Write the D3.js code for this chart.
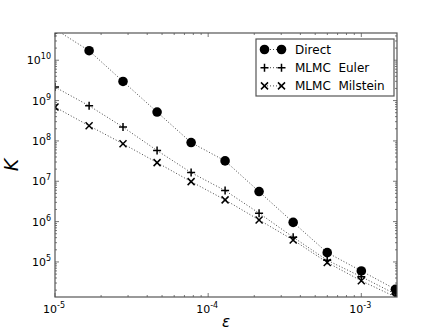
<!DOCTYPE html>
<html>
<head>
<meta charset="utf-8">
<script src="https://cdn.jsdelivr.net/npm/d3@7"></script>
<style>
  body { margin: 0; background: #fff; }
  text { font-family: "DejaVu Sans", sans-serif; }
</style>
</head>
<body>
<div id="chart"></div>
<script>

// tolerance values epsilon
const eps = [1e-5, 1.67e-5, 2.78e-5, 4.64e-5, 7.74e-5, 1.29e-4, 2.15e-4, 3.59e-4, 5.99e-4, 1e-3, 1.67e-3];

// cost K for each method
const direct   = [5.9e10, 1.72e10, 2.98e9, 5.19e8, 9.1e7, 3.2e7, 5.55e6, 9.55e5, 1.70e5, 5.98e4, 2.1e4];
const euler    = [2.16e9, 7.43e8, 2.2e8, 5.78e7, 1.64e7, 5.88e6, 1.62e6, 4.1e5, 1.1e5, 4.3e4, 1.6e4];
const milstein = [6.9e8, 2.37e8, 8.5e7, 2.9e7, 9.8e6, 3.45e6, 1.1e6, 3.5e5, 9.7e4, 3.4e4, 1.36e4];

const seriesNames = ["Direct", "MLMC  Euler", "MLMC  Milstein"];
const xTickExps = [-5, -4, -3];
const yTickExps = [5, 6, 7, 8, 9, 10];

/**********************
***** BASIC SETUP *****
**********************/

const width = 441;
const height = 331;
const margin = {top: 33, left: 55, right: 44, bottom: 34};
const plotWidth = width - margin.left - margin.right;
const plotHeight = height - margin.top - margin.bottom;
const FRAME = "#555";

const svg = d3.select("#chart").append("svg")
    .attr("width", width)
    .attr("height", height);

const x = d3.scaleLog()
    .domain([1e-5, Math.pow(10, -2.767)])
    .range([0, plotWidth]);

const y = d3.scaleLog()
    .domain([Math.pow(10, 4.131), Math.pow(10, 10.675)])
    .range([plotHeight, 0]);

const plot = svg.append("g")
    .attr("transform", `translate(${margin.left}, ${margin.top})`);

plot.append("defs").append("clipPath")
    .attr("id", "clip")
    .append("rect")
    .attr("width", plotWidth)
    .attr("height", plotHeight);

/*****************
***** TICKS *****
*****************/

function minorTicks(scale) {
    const [lo, hi] = scale.domain();
    const out = [];
    for (let e = Math.floor(Math.log10(lo)); e <= Math.ceil(Math.log10(hi)); e++) {
        for (let m = 1; m < 10; m++) {
            const v = m * Math.pow(10, e);
            if (v >= lo && v <= hi) out.push({v: v, major: m === 1});
        }
    }
    return out;
}

const xt = minorTicks(x);
const yt = minorTicks(y);

// ticks point inward on all four sides
[0, plotHeight].forEach(function(yy, i) {
    plot.selectAll(null)
        .data(xt)
        .enter()
        .append("line")
        .attr("x1", d => x(d.v))
        .attr("x2", d => x(d.v))
        .attr("y1", yy)
        .attr("y2", d => yy + (i === 0 ? 1 : -1) * (d.major ? 4 : 2))
        .attr("stroke", FRAME)
        .attr("stroke-width", 0.8);
});

[0, plotWidth].forEach(function(xx, i) {
    plot.selectAll(null)
        .data(yt)
        .enter()
        .append("line")
        .attr("y1", d => y(d.v))
        .attr("y2", d => y(d.v))
        .attr("x1", xx)
        .attr("x2", d => xx + (i === 0 ? 1 : -1) * (d.major ? 4 : 2))
        .attr("stroke", FRAME)
        .attr("stroke-width", 0.8);
});

// tick labels like 10^-5
function powLabel(sel, e) {
    sel.append("tspan").text("10");
    sel.append("tspan")
        .attr("dy", -5)
        .attr("font-size", 8)
        .text(e < 0 ? "-" + (-e) : e);
}

plot.selectAll(".xlab")
    .data(xTickExps)
    .enter()
    .append("text")
    .attr("class", "xlab")
    .attr("x", d => x(Math.pow(10, d)) - 1)
    .attr("y", plotHeight + 16)
    .attr("text-anchor", "middle")
    .attr("font-size", 11)
    .each(function(d) { powLabel(d3.select(this), d); });

plot.selectAll(".ylab")
    .data(yTickExps)
    .enter()
    .append("text")
    .attr("class", "ylab")
    .attr("x", -4)
    .attr("y", d => y(Math.pow(10, d)) + 4)
    .attr("text-anchor", "end")
    .attr("font-size", 11)
    .each(function(d) { powLabel(d3.select(this), d); });

/******************
***** SERIES *****
******************/

const series = [direct, euler, milstein];
const marks = plot.append("g").attr("clip-path", "url(#clip)");

const line = d3.line()
    .x(d => x(d[0]))
    .y(d => y(d[1]));

series.forEach(function(vals) {
    marks.append("path")
        .datum(d3.zip(eps, vals))
        .attr("d", line)
        .attr("fill", "none")
        .attr("stroke", "#333")
        .attr("stroke-width", 0.9)
        .attr("stroke-dasharray", "1,2");
});

function drawMarker(g, kind, cx, cy) {
    if (kind === 0) {
        g.append("circle")
            .attr("cx", cx).attr("cy", cy).attr("r", 4.8)
            .attr("fill", "#000");
    } else if (kind === 1) {
        g.append("path")
            .attr("d", `M${cx - 4},${cy}H${cx + 4}M${cx},${cy - 4}V${cy + 4}`)
            .attr("stroke", "#000").attr("stroke-width", 1.5);
    } else {
        g.append("path")
            .attr("d", `M${cx - 3.5},${cy - 3.5}L${cx + 3.5},${cy + 3.5}M${cx - 3.5},${cy + 3.5}L${cx + 3.5},${cy - 3.5}`)
            .attr("stroke", "#000").attr("stroke-width", 1.5);
    }
}

series.forEach(function(vals, k) {
    d3.zip(eps, vals).forEach(function(p) {
        drawMarker(marks, k, x(p[0]), y(p[1]));
    });
});

/****************
***** FRAME *****
****************/

plot.append("rect")
    .attr("width", plotWidth)
    .attr("height", plotHeight)
    .attr("fill", "none")
    .attr("stroke", FRAME)
    .attr("stroke-width", 1.2);

/*****************
***** LABELS *****
*****************/

svg.append("text")
    .attr("x", margin.left + plotWidth / 2)
    .attr("y", 327)
    .attr("text-anchor", "middle")
    .attr("font-family", "DejaVu Serif, serif")
    .attr("font-style", "italic")
    .attr("font-size", 15)
    .text("\u03b5");

svg.append("text")
    .attr("transform", `translate(18, ${margin.top + plotHeight / 2}) rotate(-90)`)
    .attr("text-anchor", "middle")
    .attr("font-family", "Liberation Serif, serif")
    .attr("font-style", "italic")
    .attr("font-size", 19)
    .text("K");

/*****************
***** LEGEND *****
*****************/

const legend = svg.append("g")
    .attr("transform", "translate(256, 39)");

legend.append("rect")
    .attr("width", 138)
    .attr("height", 57)
    .attr("fill", "#fff")
    .attr("stroke", FRAME)
    .attr("stroke-width", 1.2);

seriesNames.forEach(function(name, k) {
    const ly = 10.5 + k * 18.2;
    legend.append("line")
        .attr("x1", 8).attr("x2", 26)
        .attr("y1", ly).attr("y2", ly)
        .attr("stroke", "#333")
        .attr("stroke-width", 0.9)
        .attr("stroke-dasharray", "1,2");
    drawMarker(legend, k, 8.5, ly);
    drawMarker(legend, k, 25.5, ly);
    legend.append("text")
        .attr("x", 39)
        .attr("y", ly + 4)
        .attr("font-family", "Liberation Serif, serif")
        .attr("font-size", 12)
        .style("white-space", "pre")
        .text(name);
});

</script>
</body>
</html>
